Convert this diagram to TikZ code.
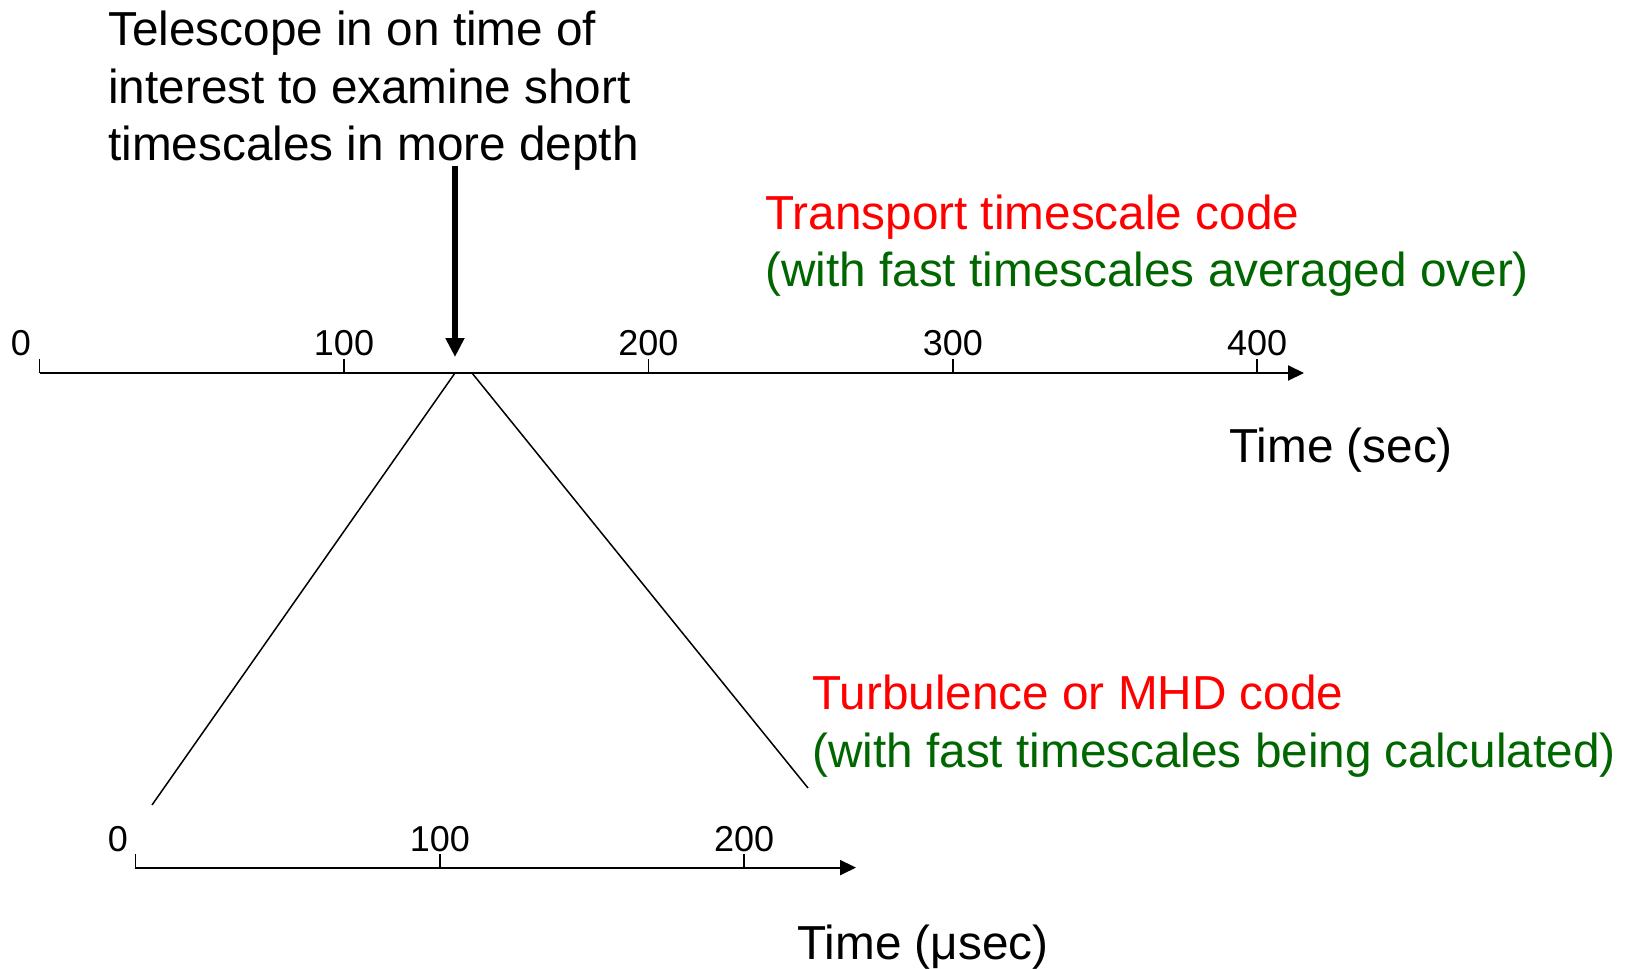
\documentclass[tikz,border=0pt]{standalone}
\usepackage{fontspec}
\setmainfont{Liberation Sans}
\usetikzlibrary{arrows.meta}
\definecolor{codered}{RGB}{255,0,0}
\definecolor{codegreen}{RGB}{0,102,0}
\begin{document}
\begin{tikzpicture}[x=0.5pt,y=-0.5pt,
  big/.style={font=\fontsize{23.85}{28.5}\selectfont, inner sep=0pt, anchor=base west},
  ticklbl/.style={font=\fontsize{18}{21}\selectfont, inner sep=0pt, anchor=base},
  axisline/.style={line width=1pt, -{Triangle[length=8pt,width=7.5pt]}},
  tickline/.style={line width=0.8pt},
  zoomline/.style={line width=0.75pt},
  pointer/.style={line width=2.6pt, -{Triangle[length=9.5pt,width=9pt]}}]
\useasboundingbox (0,0) rectangle (1633,969);

% top text
\node[big] (tele1) at (108,46) {Telescope in on time of};
\node[big] (tele2) at (108,103) {interest to examine short};
\node[big] (tele3) at (108,160) {timescales in more depth};

\node[big, text=codered] (trans1) at (765,229) {Transport timescale code};
\node[big, text=codegreen] (trans2) at (765,286) {(with fast timescales averaged over)};

\node[big, text=codered] (turb1) at (812,709) {Turbulence or MHD code};
\node[big, text=codegreen] (turb2) at (812,767) {(with fast timescales being calculated)};

\node[big] (tsec) at (1229,462) {Time (sec)};
\node[big] (tusec) at (797,959) {Time (μsec)};

% top axis
\coordinate (t0) at (39.6,373);
\coordinate (tend) at (1304,373);
\draw[axisline] (t0) -- (tend);
\foreach \i/\lab in {0/0,1/100,2/200,3/300,4/400}{
  \coordinate (tt\i) at ({39.6+304.4*\i},373);
  \draw[tickline] (tt\i) -- ++(0,-14);
  \ifnum\i=0
    \node[ticklbl] (tl\i) at (21,355) {\lab};
  \else
    \node[ticklbl] (tl\i) at ({39.6+304.4*\i},355) {\lab};
  \fi
}

% bottom axis
\coordinate (b0) at (135.4,867.6);
\coordinate (bend) at (856,867.6);
\draw[axisline] (b0) -- (bend);
\foreach \i/\lab in {0/0,1/100,2/200}{
  \coordinate (bt\i) at ({135.4+304.4*\i},867.6);
  \draw[tickline] (bt\i) -- ++(0,-14);
  \ifnum\i=0
    \node[ticklbl] (bl\i) at (118,851) {\lab};
  \else
    \node[ticklbl] (bl\i) at ({135.4+304.4*\i},851) {\lab};
  \fi
}

% pointer arrow
\coordinate (ptop) at (455,166);
\coordinate (pbot) at (455,357);
\draw[pointer] (ptop) -- (pbot);

% zoom lines
\coordinate (zl) at (455,373);
\coordinate (zr) at (472,373);
\coordinate (zbl) at (152,805);
\coordinate (zbr) at (808,788);
\draw[zoomline] (zl) -- (zbl);
\draw[zoomline] (zr) -- (zbr);
\end{tikzpicture}
\end{document}
